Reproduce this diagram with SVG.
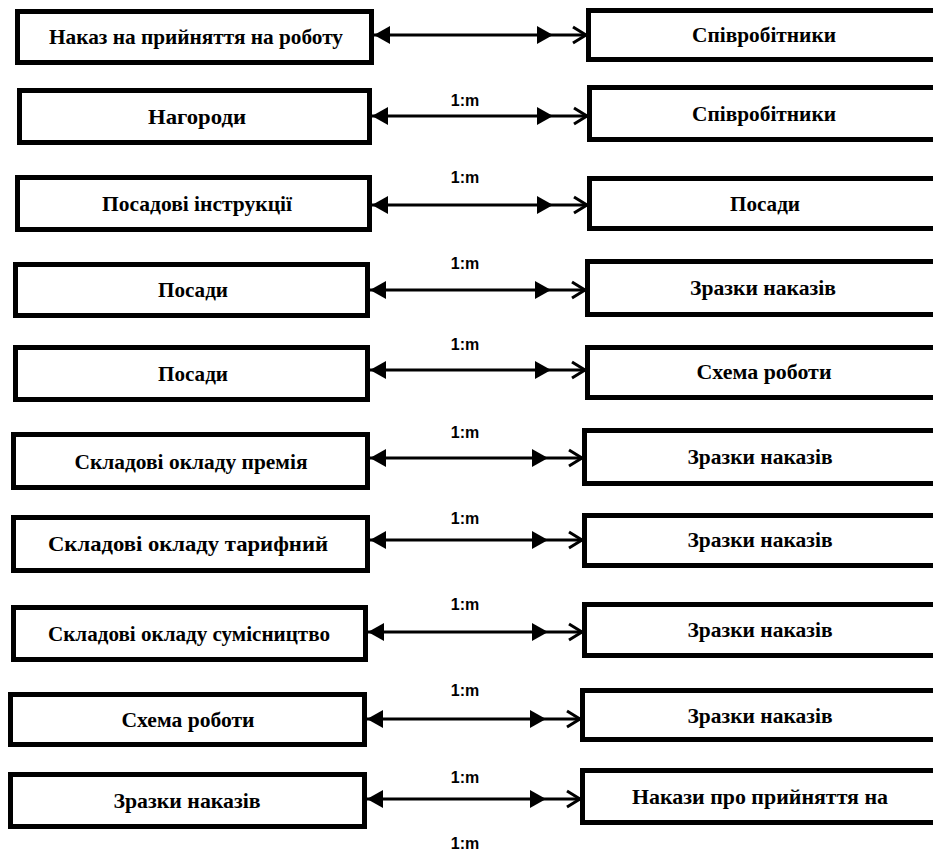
<svg xmlns="http://www.w3.org/2000/svg" width="933" height="854" viewBox="0 0 933 854">
<style>
.box{fill:#fff;stroke:#000;stroke-width:5}
.t{font-family:'Liberation Serif','DejaVu Serif',serif;font-weight:bold;font-size:22px;text-anchor:middle;fill:#000}
.lbl{font-family:'Liberation Sans',Arial,sans-serif;font-weight:bold;font-size:16px;text-anchor:middle;fill:#000}
.c{fill:none;stroke:#000;stroke-width:3;marker-start:url(#ms);marker-mid:url(#mm);marker-end:url(#me)}
</style>
<defs>
<marker id="ms" markerUnits="userSpaceOnUse" markerWidth="20" markerHeight="20" refX="0" refY="9" orient="auto" overflow="visible">
<path d="M0,9 L16,0 L16,18 Z" fill="#000"/>
</marker>
<marker id="mm" markerUnits="userSpaceOnUse" markerWidth="20" markerHeight="20" refX="16" refY="9" orient="auto" overflow="visible">
<path d="M0,0 L16,9 L0,18 Z" fill="#000"/>
</marker>
<marker id="me" markerUnits="userSpaceOnUse" markerWidth="20" markerHeight="20" refX="14" refY="9" orient="auto" overflow="visible">
<path d="M1,1 L14,9 L1,17" fill="none" stroke="#000" stroke-width="3"/>
</marker>
</defs>
<g id="connectors">
<path class="c" d="M374,35 L553,35 L586,35"/>
<path class="c" d="M372,116 L553,116 L587,116"/>
<path class="c" d="M372,205 L553,205 L587,205"/>
<path class="c" d="M370,290 L551,290 L585,290"/>
<path class="c" d="M370,370 L551,370 L585,370"/>
<path class="c" d="M370,458 L548,458 L582,458"/>
<path class="c" d="M370,540 L548,540 L582,540"/>
<path class="c" d="M368,632 L548,632 L582,632"/>
<path class="c" d="M367,719 L546,719 L580,719"/>
<path class="c" d="M367,799 L546,799 L580,799"/>
</g>
<g id="labels">
<text class="lbl" x="465" y="106">1:m</text>
<text class="lbl" x="465" y="183">1:m</text>
<text class="lbl" x="465" y="269">1:m</text>
<text class="lbl" x="465" y="350">1:m</text>
<text class="lbl" x="465" y="438">1:m</text>
<text class="lbl" x="465" y="524">1:m</text>
<text class="lbl" x="465" y="610">1:m</text>
<text class="lbl" x="465" y="696">1:m</text>
<text class="lbl" x="465" y="783">1:m</text>
<text class="lbl" x="465" y="849">1:m</text>
</g>
<g id="l1"><rect class="box" x="17.5" y="11.5" width="354" height="51"/><text class="t" x="196" y="44" textLength="294" lengthAdjust="spacingAndGlyphs">Наказ на прийняття на роботу</text></g>
<g id="r1"><rect class="box" x="588.5" y="10.5" width="360" height="49"/><text class="t" x="764" y="42" textLength="144" lengthAdjust="spacingAndGlyphs">Співробітники</text></g>
<g id="l2"><rect class="box" x="19.5" y="90.5" width="350" height="52"/><text class="t" x="197" y="124" textLength="98" lengthAdjust="spacingAndGlyphs">Нагороди</text></g>
<g id="r2"><rect class="box" x="589.5" y="87.5" width="360" height="52"/><text class="t" x="764" y="121" textLength="144" lengthAdjust="spacingAndGlyphs">Співробітники</text></g>
<g id="l3"><rect class="box" x="17.5" y="177.5" width="352" height="52"/><text class="t" x="197" y="211" textLength="190" lengthAdjust="spacingAndGlyphs">Посадові інструкції</text></g>
<g id="r3"><rect class="box" x="589.5" y="178.5" width="360" height="50"/><text class="t" x="765" y="211" textLength="70" lengthAdjust="spacingAndGlyphs">Посади</text></g>
<g id="l4"><rect class="box" x="15.5" y="264.5" width="352" height="51"/><text class="t" x="193" y="297" textLength="70" lengthAdjust="spacingAndGlyphs">Посади</text></g>
<g id="r4"><rect class="box" x="587.5" y="261.5" width="360" height="53"/><text class="t" x="763" y="295" textLength="146" lengthAdjust="spacingAndGlyphs">Зразки наказів</text></g>
<g id="l5"><rect class="box" x="15.5" y="347.5" width="352" height="52"/><text class="t" x="193" y="381" textLength="70" lengthAdjust="spacingAndGlyphs">Посади</text></g>
<g id="r5"><rect class="box" x="587.5" y="347.5" width="360" height="50"/><text class="t" x="764" y="379" textLength="135" lengthAdjust="spacingAndGlyphs">Схема роботи</text></g>
<g id="l6"><rect class="box" x="13.5" y="434.5" width="354" height="53"/><text class="t" x="191" y="469" textLength="233" lengthAdjust="spacingAndGlyphs">Складові окладу премія</text></g>
<g id="r6"><rect class="box" x="584.5" y="430.5" width="360" height="53"/><text class="t" x="760" y="464" textLength="145" lengthAdjust="spacingAndGlyphs">Зразки наказів</text></g>
<g id="l7"><rect class="box" x="13.5" y="517.5" width="354" height="53"/><text class="t" x="188" y="551" textLength="280" lengthAdjust="spacingAndGlyphs">Складові окладу тарифний</text></g>
<g id="r7"><rect class="box" x="584.5" y="515.5" width="360" height="50"/><text class="t" x="760" y="547" textLength="145" lengthAdjust="spacingAndGlyphs">Зразки наказів</text></g>
<g id="l8"><rect class="box" x="13.5" y="607.5" width="352" height="52"/><text class="t" x="189" y="641" textLength="282" lengthAdjust="spacingAndGlyphs">Складові окладу сумісництво</text></g>
<g id="r8"><rect class="box" x="584.5" y="604.5" width="360" height="51"/><text class="t" x="760" y="637" textLength="145" lengthAdjust="spacingAndGlyphs">Зразки наказів</text></g>
<g id="l9"><rect class="box" x="10.5" y="694.5" width="354" height="50"/><text class="t" x="188" y="727" textLength="133" lengthAdjust="spacingAndGlyphs">Схема роботи</text></g>
<g id="r9"><rect class="box" x="582.5" y="690.5" width="360" height="49"/><text class="t" x="760" y="723" textLength="145" lengthAdjust="spacingAndGlyphs">Зразки наказів</text></g>
<g id="l10"><rect class="box" x="10.5" y="774.5" width="354" height="52"/><text class="t" x="187" y="808" textLength="147" lengthAdjust="spacingAndGlyphs">Зразки наказів</text></g>
<g id="r10"><rect class="box" x="582.5" y="770.5" width="360" height="52"/><text class="t" x="760" y="804" textLength="256" lengthAdjust="spacingAndGlyphs">Накази про прийняття на</text></g>
</svg>
